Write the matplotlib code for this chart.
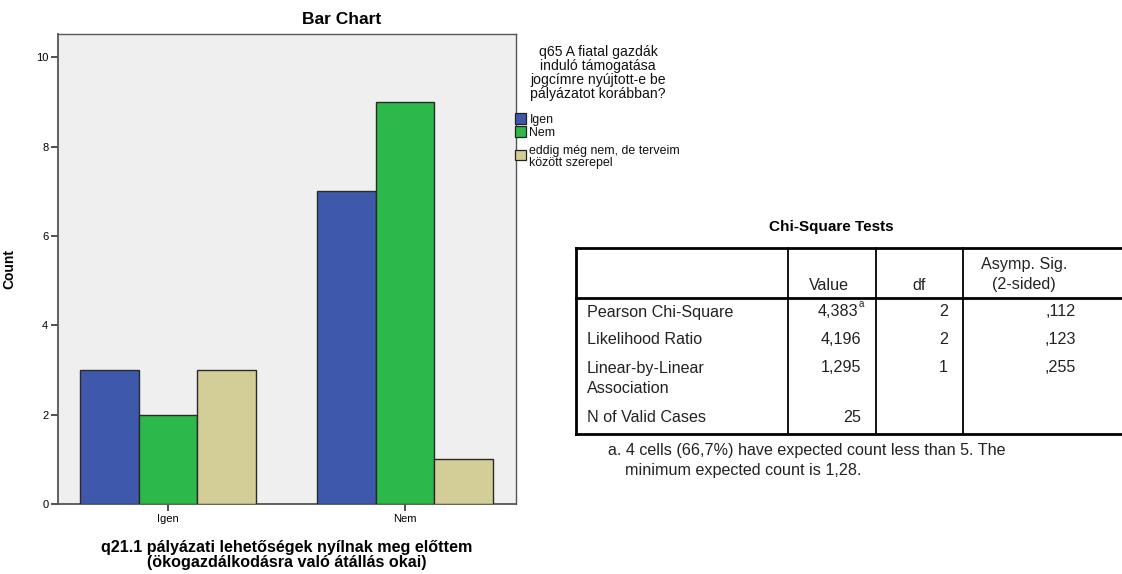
import numpy as np
import matplotlib
matplotlib.use('Agg')
import matplotlib.pyplot as plt
from matplotlib.patches import Rectangle

plt.rcParams['font.family'] = ['Liberation Sans', 'DejaVu Sans']

# Adatok a diagramhoz
kategoriak = ['Igen', 'Nem']
sorozat_nevek = ['Igen', 'Nem', 'eddig még nem, de terveim\nközött szerepel']
ertekek = [
    [3, 7],   # Igen
    [2, 9],   # Nem
    [3, 1],   # eddig még nem...
]
szinek = ['#3E58AC', '#2DB84A', '#D3CE97']
y_ticks = [0, 2, 4, 6, 8, 10]
legend_cim = 'q65 A fiatal gazdák\ninduló támogatása\njogcímre nyújtott-e be\npályázatot korábban?'

# Chi-négyzet táblázat
tabla_fejlec = ['', 'Value', 'df', 'Asymp. Sig.\n(2-sided)']
tabla_sorok = ['Pearson Chi-Square', 'Likelihood Ratio', 'Linear-by-Linear\nAssociation', 'N of Valid Cases']
tabla_value = ['4,383', '4,196', '1,295', '25']
tabla_df = ['2', '2', '1', '']
tabla_sig = [',112', ',123', ',255', '']
labjegyzet = ['a. 4 cells (66,7%) have expected count less than 5. The',
              'minimum expected count is 1,28.']

W, H = 1122, 574
fig = plt.figure(figsize=(W / 100, H / 100), dpi=100)
fig.patch.set_facecolor('white')

# Oszlopdiagram
ax = fig.add_axes([58 / W, 1 - 504 / H, (516 - 58) / W, (504 - 34) / H])
ax.set_facecolor('#EFEFEF')
x = np.arange(len(kategoriak))
szel = 0.247
for i, (vals, c) in enumerate(zip(ertekek, szinek)):
    ax.bar(x + (i - 1) * szel, vals, width=szel, color=c,
           edgecolor='#2a2a2a', linewidth=1.0, zorder=3)
ax.set_xlim(-0.464, 1.468)
ax.set_ylim(0, 10.52)
ax.set_yticks(y_ticks)
ax.set_yticklabels([str(t) for t in y_ticks])
ax.set_xticks(x)
ax.set_xticklabels(kategoriak)
ax.tick_params(axis='both', labelsize=8, length=5, width=1.2, color='#333333', pad=2)
for s in ax.spines.values():
    s.set_color('#555555')
    s.set_linewidth(1.0)
ax.spines['left'].set_linewidth(1.3)
ax.spines['bottom'].set_linewidth(1.3)
ax.set_ylabel('Count', fontsize=10, fontweight='bold', labelpad=14)
ax.set_xlabel('q21.1 pályázati lehetőségek nyílnak meg előttem\n(ökogazdálkodásra való átállás okai)',
              fontsize=11.6, fontweight='bold', linespacing=0.98, labelpad=12)

# Átfedő tengely pixel koordinátákkal
ov = fig.add_axes([0, 0, 1, 1], zorder=5)
ov.set_xlim(0, W)
ov.set_ylim(H, 0)
ov.axis('off')
ov.patch.set_alpha(0)

ov.text(342, 19, 'Bar Chart', fontsize=12.5, fontweight='bold', ha='center', va='center')

# Jelmagyarázat
ov.text(598, 73, legend_cim, fontsize=10.1, ha='center', va='center',
        linespacing=0.98, color='#111111')
swatch_y = [113, 126, 150]
text_y = [120, 133, 157]
for yy, ty, c, nev in zip(swatch_y, text_y, szinek, sorozat_nevek):
    ov.add_patch(Rectangle((515.5, yy), 11, 11 if yy != 150 else 10, facecolor=c,
                           edgecolor='#222222', linewidth=0.9))
    ov.text(529.5, ty, nev, fontsize=8.9, ha='left', va='center', linespacing=0.95, color='#111111')

# Táblázat
ov.text(831, 227, 'Chi-Square Tests', fontsize=11, fontweight='bold', ha='center', va='center')
xl, xr = 576, 1122
col_x = [788, 876, 963]
y_top, y_head, y_bot = 248, 298, 434
ov.plot([xl, xr], [y_top, y_top], color='black', lw=2.0)
ov.plot([xl, xr], [y_head, y_head], color='black', lw=2.0)
ov.plot([xl, xr], [y_bot, y_bot], color='black', lw=2.0)
ov.plot([xl, xl], [y_top, y_bot], color='black', lw=2.0)
for cx in col_x:
    ov.plot([cx, cx], [y_top, y_bot], color='black', lw=1.3)

fs = 11.6
ov.text(829, 285, tabla_fejlec[1], fontsize=fs, ha='center', va='center', color='#222222')
ov.text(919, 285, tabla_fejlec[2], fontsize=fs, ha='center', va='center', color='#222222')
for j, sor in enumerate(tabla_fejlec[3].split('\n')):
    ov.text(1024, 264 + 21 * j, sor, fontsize=fs, ha='center', va='center', color='#222222')

sor_y = [312, 340, 368, 418]
for yy, nev, v, d, s in zip(sor_y, tabla_sorok, tabla_value, tabla_df, tabla_sig):
    for j, sor in enumerate(nev.split('\n')):
        ov.text(587, yy + 20.5 * j, sor, fontsize=fs, ha='left', va='center', color='#222222')
    ov.text(858 if v == tabla_value[0] else 861, yy, v, fontsize=fs, ha='right', va='center', color='#222222')
    ov.text(948, yy, d, fontsize=fs, ha='right', va='center', color='#222222')
    ov.text(1076, yy, s, fontsize=fs, ha='right', va='center', color='#222222')
ov.text(858.5, 304, 'a', fontsize=7, ha='left', va='center', color='#222222')

ov.text(608, 450, labjegyzet[0], fontsize=fs, ha='left', va='center', color='#222222')
ov.text(625, 471, labjegyzet[1], fontsize=fs, ha='left', va='center', color='#222222')

fig.savefig('out.png', dpi=100)
